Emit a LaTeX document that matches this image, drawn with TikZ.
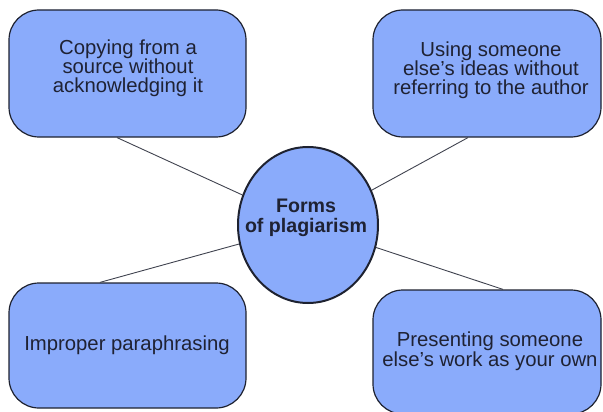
\documentclass[tikz,border=0pt]{standalone}
\usepackage{fontspec}
\setmainfont{Liberation Sans}
\usetikzlibrary{shapes.geometric,calc}
\definecolor{boxfill}{HTML}{8AABFB}
\definecolor{edgecol}{HTML}{1E2230}
\definecolor{txtcol}{HTML}{1F2233}
\begin{document}
\begin{tikzpicture}[x=1pt,y=-1pt,
  box/.style={draw=edgecol, line width=1.2pt, fill=boxfill, rounded corners=30pt, inner sep=0pt},
  hub/.style={ellipse, draw=edgecol, line width=2pt, fill=boxfill, inner sep=0pt},
  conn/.style={draw=edgecol!85, line width=0.9pt},
  lbl/.style={align=center, text=txtcol, inner sep=0pt, font=\fontsize{20.3}{18.5}\selectfont},
  hublbl/.style={align=center, text=txtcol, inner sep=0pt, font=\bfseries\fontsize{19.6}{20}\selectfont}]
\useasboundingbox (0,0) rectangle (603,412);
\node[box, minimum width=237pt, minimum height=127pt] (tl) at (127.5,73.5) {};
\node[box, minimum width=228pt, minimum height=127pt] (tr) at (487,73.5) {};
\node[box, minimum width=237pt, minimum height=125pt] (bl) at (127.5,345.5) {};
\node[box, minimum width=228pt, minimum height=124pt] (br) at (487,352) {};
\node[hub, minimum width=140pt, minimum height=156pt] (c) at (308,225) {};
\draw[conn] ($(tl.south west)!0.456!(tl.south east)$) -- (c);
\draw[conn] ($(tr.south west)!0.417!(tr.south east)$) -- (c);
\draw[conn] ($(bl.north west)!0.384!(bl.north east)$) -- (c);
\draw[conn] ($(br.north west)!0.57!(br.north east)$) -- (c);
\node[lbl] (tlt) at (128,68) {Copying from a\\source without\\acknowledging it};
\node[lbl] (trt) at (491,70) {Using someone\\else’s ideas without\\referring to the author};
\node[lbl] (blt) at (127,345) {Improper paraphrasing};
\node[lbl] (brt) at (490,351) {Presenting someone\\else’s work as your own};
\node[hublbl] (ct) at (306,218) {Forms\\of plagiarism};
\end{tikzpicture}
\end{document}
